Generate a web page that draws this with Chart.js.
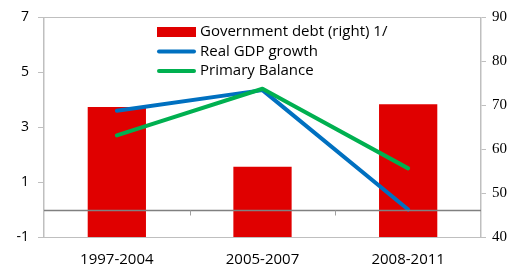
<!DOCTYPE html>
<html>
<head>
<meta charset="utf-8">
<script src="https://cdn.jsdelivr.net/npm/chart.js@4"></script>
<style>
html,body{margin:0;padding:0;background:#fff;}
#wrap{width:519px;height:272px;position:relative;}
</style>
</head>
<body>
<div id="wrap"><canvas id="c" width="519" height="272"></canvas></div>
<script>
const categories = ['1997-2004', '2005-2007', '2008-2011'];
const governmentDebt = [69.6, 56.0, 70.2];
const realGdpGrowth = [3.6, 4.35, 0.0];
const primaryBalance = [2.7, 4.4, 1.5];
const leftTicks = [-1, 1, 3, 5, 7];
const rightTicks = [40, 50, 60, 70, 80, 90];

const SANS = '"Open Sans", "Noto Sans", sans-serif';
const SERIF = '"Liberation Serif", "DejaVu Serif", serif';
const AXIS_GRAY = '#bfbfbf';

const decorPlugin = {
  id: 'decor',
  afterDatasetsDraw(chart) {
    const ctx = chart.ctx, a = chart.chartArea;
    const y = chart.scales.y, x = chart.scales.x;
    ctx.save();
    ctx.strokeStyle = AXIS_GRAY; ctx.lineWidth = 1;
    ctx.beginPath(); ctx.moveTo(a.left, Math.round(a.top) + 0.5); ctx.lineTo(a.right, Math.round(a.top) + 0.5); ctx.stroke();
    const y0 = Math.round(y.getPixelForValue(0)) + 0.5;
    ctx.strokeStyle = '#808080'; ctx.lineWidth = 1.5;
    ctx.beginPath(); ctx.moveTo(a.left, y0); ctx.lineTo(a.right, y0); ctx.stroke();
    ctx.lineWidth = 1; ctx.strokeStyle = '#a0a0a0';
    for (let i = 1; i < categories.length; i++) {
      const xb = Math.round((x.getPixelForValue(i - 1) + x.getPixelForValue(i)) / 2) + 0.5;
      ctx.beginPath(); ctx.moveTo(xb, y0); ctx.lineTo(xb, y0 + 5); ctx.stroke();
    }
    ctx.restore();
  },
  afterDraw(chart) {
    const ctx = chart.ctx;
    const items = chart.data.datasets.slice().sort((p, q) => (p.legendRank || 0) - (q.legendRank || 0));
    const x0 = 157, x1 = 196, tx = 200;
    let yy = 32;
    ctx.save();
    ctx.font = '15px ' + SANS;
    ctx.textBaseline = 'middle';
    ctx.textAlign = 'left';
    items.forEach(ds => {
      if (ds.type === 'bar') {
        ctx.fillStyle = ds.backgroundColor;
        ctx.fillRect(x0, yy - 5, x1 - x0, 10);
      } else {
        ctx.strokeStyle = ds.borderColor; ctx.lineWidth = 4; ctx.lineCap = 'round';
        ctx.beginPath(); ctx.moveTo(x0 + 2, yy); ctx.lineTo(x1 - 2, yy); ctx.stroke();
      }
      ctx.fillStyle = '#000';
      ctx.fillText(ds.label, tx, yy);
      yy += 19.5;
    });
    ctx.restore();
  }
};

new Chart(document.getElementById('c'), {
  data: {
    labels: categories,
    datasets: [
      {
        type: 'bar', label: 'Government debt (right) 1/', data: governmentDebt,
        backgroundColor: '#e00000', yAxisID: 'y2', order: 2, legendRank: 0,
        barPercentage: 0.4, categoryPercentage: 1.0
      },
      {
        type: 'line', label: 'Real GDP growth', data: realGdpGrowth,
        borderColor: '#0070c0', backgroundColor: '#0070c0', borderWidth: 4,
        pointRadius: 0, tension: 0, yAxisID: 'y', order: 1, legendRank: 1,
        borderCapStyle: 'round', borderJoinStyle: 'round'
      },
      {
        type: 'line', label: 'Primary Balance', data: primaryBalance,
        borderColor: '#00b050', backgroundColor: '#00b050', borderWidth: 4,
        pointRadius: 0, tension: 0, yAxisID: 'y', order: 0, legendRank: 2,
        borderCapStyle: 'round', borderJoinStyle: 'round'
      }
    ]
  },
  options: {
    responsive: false,
    animation: false,
    devicePixelRatio: 1,
    layout: { padding: { top: 14, left: 0, right: 0, bottom: 0 } },
    plugins: { legend: { display: false }, tooltip: { enabled: false } },
    scales: {
      x: {
        offset: true,
        grid: { display: false, drawTicks: false },
        border: { display: true, color: AXIS_GRAY, width: 1 },
        ticks: { color: '#000', font: { family: SANS, size: 15 }, padding: 14, maxRotation: 0 },
        afterFit(s) { s.height = 35; }
      },
      y: {
        position: 'left', min: -1, max: 7,
        afterBuildTicks(s) { s.ticks = leftTicks.map(v => ({ value: v })); },
        grid: { drawOnChartArea: false, drawTicks: true, tickLength: 6, color: AXIS_GRAY },
        border: { display: true, color: AXIS_GRAY, width: 1.5 },
        ticks: { color: '#000', font: { family: SANS, size: 14 }, padding: 9 },
        afterFit(s) { s.width = 44; }
      },
      y2: {
        position: 'right', min: 40, max: 90,
        afterBuildTicks(s) { s.ticks = rightTicks.map(v => ({ value: v })); },
        grid: { drawOnChartArea: false, drawTicks: true, tickLength: 5, color: AXIS_GRAY },
        border: { display: true, color: AXIS_GRAY, width: 1.5 },
        ticks: { color: '#000', font: { family: SERIF, size: 15 }, padding: 6 },
        afterFit(s) { s.width = 38; }
      }
    }
  },
  plugins: [decorPlugin]
});
</script>
</body>
</html>
